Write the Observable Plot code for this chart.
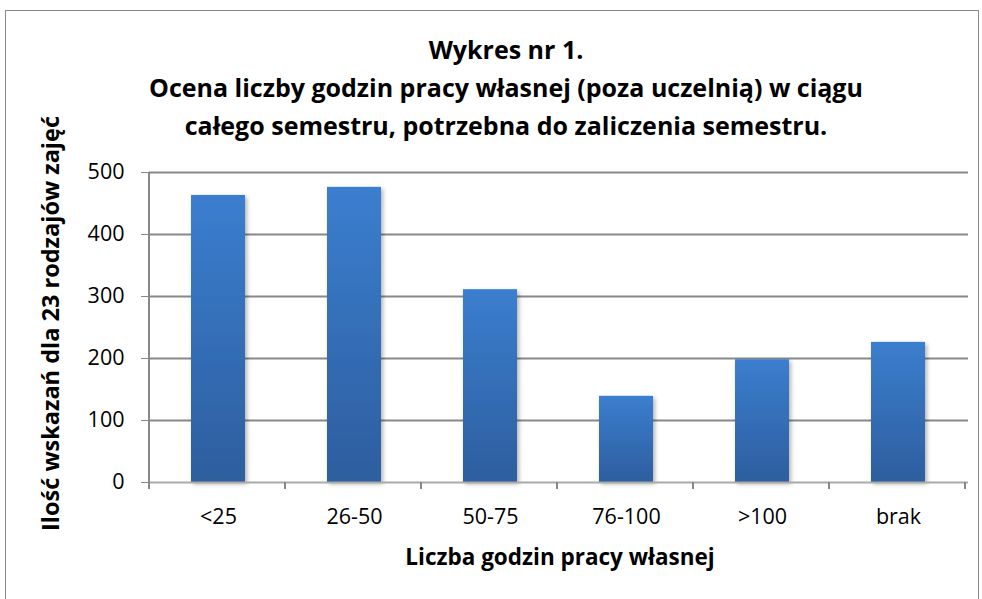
<!DOCTYPE html>
<html>
<head>
<meta charset="utf-8">
<script src="https://cdn.jsdelivr.net/npm/d3@7"></script>
<script src="https://cdn.jsdelivr.net/npm/@observablehq/plot@0.6"></script>
<style>
  html, body { margin: 0; padding: 0; background: #fff; }
  #chart svg { display: block; }
</style>
</head>
<body>
<div id="chart"></div>
<script>
const categories = ["<25", "26-50", "50-75", "76-100", ">100", "brak"];
const values = [463, 476, 311, 139, 198, 226];
const yTicks = [0, 100, 200, 300, 400, 500];
const titleLines = [
  "Wykres nr 1.",
  "Ocena liczby godzin pracy własnej (poza uczelnią) w ciągu",
  "całego semestru, potrzebna do zaliczenia semestru."
];
const xTitle = "Liczba godzin pracy własnej";
const yTitle = "Ilość wskazań dla 23 rodzajów zajęć";

const data = categories.map((c, i) => ({ cat: c, value: values[i] }));
const FONT = "'Open Sans', sans-serif";

const W = 982, H = 599;
const chart = Plot.plot({
  width: W,
  height: H,
  marginLeft: 149,
  marginRight: 14,
  marginTop: 172,
  marginBottom: 117,
  style: { fontFamily: FONT, fontSize: "21.5px", color: "#000", background: "#fff" },
  x: { domain: categories, paddingInner: 0.6, paddingOuter: 0.3, label: null },
  y: { domain: [0, 500], ticks: yTicks, label: null },
  marks: [
    Plot.gridY(yTicks.filter(d => d > 0), { stroke: "#888", strokeOpacity: 1, strokeWidth: 2 }),
    Plot.barY(data, { x: "cat", y: "value", fill: "url(#barGrad)" }),
    Plot.ruleY([0], { stroke: "#aaa", strokeWidth: 2 }),
    Plot.axisY({ ticks: yTicks, tickSize: 8, tickPadding: 17, stroke: "#888", fontSize: 21.5, fill: "#000" }),
    Plot.axisX({ tickSize: 0, tickPadding: 26, fontSize: 21.5, fill: "#000" })
  ]
});

document.getElementById("chart").appendChild(chart);

const svg = d3.select(chart);
const defs = svg.insert("defs", ":first-child");
const grad = defs.append("linearGradient").attr("id", "barGrad")
  .attr("x1", 0).attr("y1", 0).attr("x2", 0).attr("y2", 1);
grad.append("stop").attr("offset", "0%").attr("stop-color", "#3b7ecf");
grad.append("stop").attr("offset", "100%").attr("stop-color", "#2d5e9e");
const filt = defs.append("filter").attr("id", "shadow")
  .attr("x", "-20%").attr("y", "-20%").attr("width", "140%").attr("height", "140%");
filt.append("feDropShadow").attr("dx", 2).attr("dy", 2).attr("stdDeviation", 2)
  .attr("flood-color", "#000").attr("flood-opacity", 0.3);
svg.selectAll("g[aria-label='bar'] rect").attr("filter", "url(#shadow)");

// axis lines and x boundary ticks using the scales
const xs = chart.scale("x");
const ys = chart.scale("y");
const y0 = ys.apply(0);
const yTop = ys.apply(500);
const x0 = xs.range[0];
const step = xs.step;
const g = svg.append("g");
g.append("line").attr("x1", x0).attr("x2", x0).attr("y1", yTop).attr("y2", y0)
  .attr("stroke", "#888").attr("stroke-width", 2);
for (let i = 0; i <= categories.length; i++) {
  const xx = x0 + i * step;
  g.append("line").attr("x1", xx).attr("x2", xx).attr("y1", y0).attr("y2", y0 + 7)
    .attr("stroke", "#888").attr("stroke-width", 2);
}

// frame
svg.append("rect").attr("x", 5.5).attr("y", 10.5).attr("width", 973).attr("height", 600)
  .attr("fill", "none").attr("stroke", "#888").attr("stroke-width", 1);

// titles
const tg = svg.append("g").attr("font-family", FONT).attr("font-weight", "bold")
  .attr("text-anchor", "middle").attr("fill", "#000");
titleLines.forEach((t, i) => {
  tg.append("text").attr("x", 506).attr("y", 59 + i * 38).attr("font-size", 25).text(t);
});
tg.append("text").attr("x", 560).attr("y", 565).attr("font-size", 22.5).text(xTitle);
tg.append("text").attr("transform", "translate(59,323.5) rotate(-90)").attr("font-size", 23.5).text(yTitle);
</script>
</body>
</html>
